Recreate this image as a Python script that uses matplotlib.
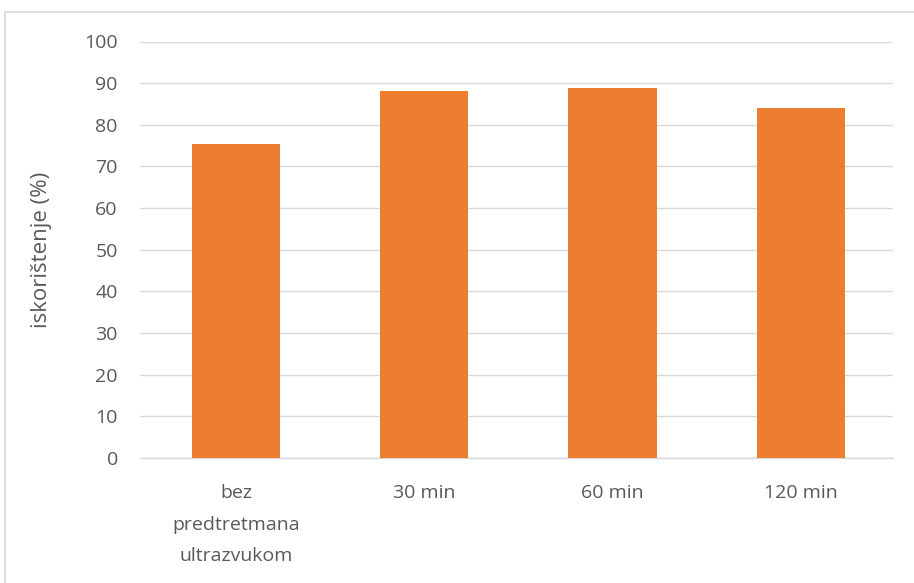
import matplotlib.pyplot as plt
from matplotlib.patches import Rectangle

# Data
categories = ["bez\npredtretmana\nultrazvukom", "30 min", "60 min", "120 min"]
values = [75.3, 88.0, 88.9, 84.0]
y_ticks = list(range(0, 101, 10))

_BAR_COLOR = "#ED7D31"
_GRID_COLOR = "#D9D9D9"
_TEXT_COLOR = "#595959"

plt.rcParams["font.family"] = ["Open Sans", "DejaVu Sans"]

fig = plt.figure(figsize=(9.14, 5.83), dpi=100)
ax = fig.add_axes([140 / 914, 1 - 458 / 583, 753 / 914, (458 - 41.5) / 583])

# outer chart frame (Excel style)
fig.patches.append(Rectangle((5 / 914, -0.1), 1.2, 1 - 12 / 583 + 0.1,
                             transform=fig.transFigure, fill=False,
                             edgecolor=_GRID_COLOR, lw=1.2))

x = range(len(categories))
ax.bar(x, values, width=0.47, color=_BAR_COLOR, zorder=3)

ax.set_xlim(-0.51, len(categories) - 0.51)
ax.set_ylim(0, 100)
ax.set_yticks(y_ticks)
ax.set_xticks(list(x))
ax.set_xticklabels(categories, linespacing=1.95)
ax.tick_params(axis="both", length=0, labelsize=14, colors=_TEXT_COLOR)
ax.tick_params(axis="x", pad=19)
ax.tick_params(axis="y", pad=16)
ax.yaxis.grid(True, color=_GRID_COLOR, lw=1, zorder=0)
ax.set_axisbelow(True)
for side in ("top", "right", "left"):
    ax.spines[side].set_visible(False)
ax.spines["bottom"].set_color(_GRID_COLOR)
ax.spines["bottom"].set_linewidth(1)

ax.set_ylabel("iskorištenje (%)", fontsize=16, color=_TEXT_COLOR, labelpad=23)

fig.savefig("out.png", dpi=100)
